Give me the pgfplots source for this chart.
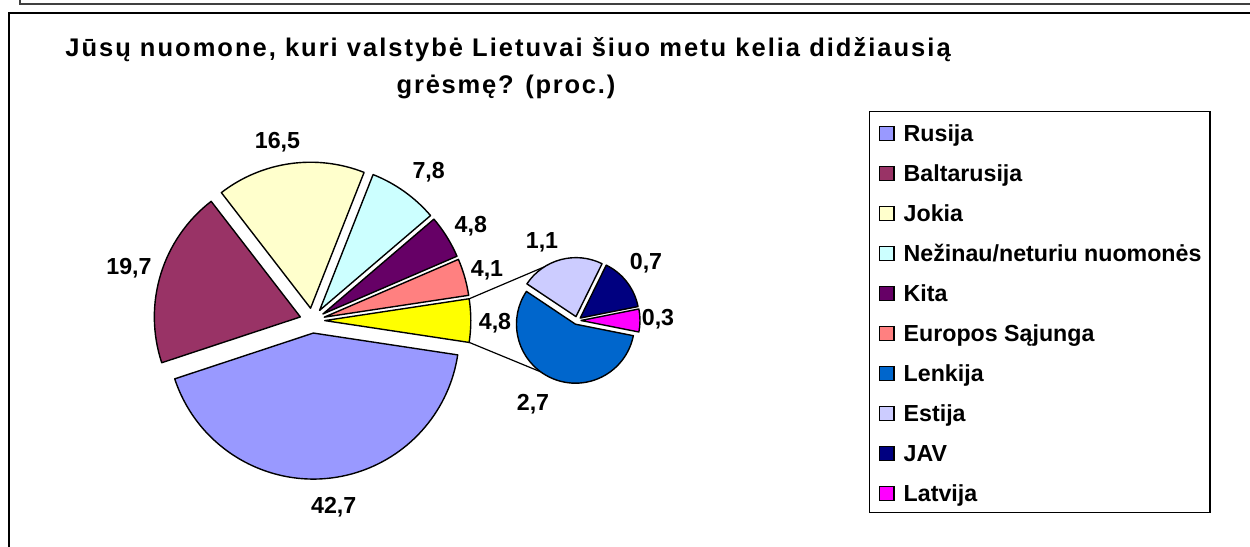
\documentclass[border=0pt]{standalone}
\usepackage{pgfplots}
\pgfplotsset{compat=1.18}
\usepackage{pgfplotstable}
\usepackage{fontspec}
\setmainfont{Liberation Sans}
\newfontfamily\titlefont[LetterSpace=7.9]{Liberation Sans}
\newfontfamily\titlefontb[LetterSpace=6.9]{Liberation Sans}

\definecolor{cRus}{HTML}{9999FF}
\definecolor{cBalt}{HTML}{993366}
\definecolor{cJokia}{HTML}{FFFFCC}
\definecolor{cNez}{HTML}{CCFFFF}
\definecolor{cKita}{HTML}{660066}
\definecolor{cES}{HTML}{FF8080}
\definecolor{cOther}{HTML}{FFFF00}
\definecolor{cLen}{HTML}{0066CC}
\definecolor{cEst}{HTML}{CCCCFF}
\definecolor{cJAV}{HTML}{000080}
\definecolor{cLat}{HTML}{FF00FF}

% main pie, counter-clockwise from the "other" slice; lx, ly = label centre (pixels from top-left)
\pgfplotstableread{
value color  lx    ly
4.8   cOther 495   321.7
4.1   cES    487   268
4.8   cKita  470.8 224
7.8   cNez   428.7 170
16.5  cJokia 277.5 140
19.7  cBalt  129   266.5
42.7  cRus   333.7 505
}\maindata

% secondary pie, counter-clockwise
\pgfplotstableread{
value color lx  ly
0.3   cLat  658 317
0.7   cJAV  646 260.8
1.1   cEst  542 240
2.7   cLen  533 402.5
}\subdata

\pgfplotstableread[col sep=comma]{
name,color
Rusija,cRus
Baltarusija,cBalt
Jokia,cJokia
Nežinau/neturiu nuomonės,cNez
Kita,cKita
Europos Sąjunga,cES
Lenkija,cLen
Estija,cEst
JAV,cJAV
Latvija,cLat
}\legdata

\newcommand\lblfont{\fontsize{11.6bp}{13bp}\selectfont\bfseries}
\pgfkeys{/pgf/number format/.cd, fixed, fixed zerofill, precision=1, use comma, assume math mode=true}

\begin{document}
\begin{tikzpicture}
\begin{axis}[x=0.5bp, y=0.5bp, xmin=0, xmax=1250, ymin=0, ymax=547,
  hide axis, clip=false, name=ax]

% frames
\draw[line width=0.75bp, black!75] (axis cs:20,547) -- (axis cs:20,543) -- (axis cs:1250,543);
\draw[line width=1.1bp] (axis cs:9.3,0) -- (axis cs:9.3,533.7) -- (axis cs:1250,533.7);

% title
\node[anchor=base, inner sep=0] at (axis cs:508,490.3) {\titlefont\fontsize{12.75bp}{14bp}\selectfont\bfseries Jūsų nuomone, kuri valstybė Lietuvai šiuo metu kelia didžiausią};
\node[anchor=base, inner sep=0] at (axis cs:506,453.7) {\titlefontb\fontsize{12.75bp}{14bp}\selectfont\bfseries grėsmę? (proc.)};

% connector lines
\draw[line width=0.6bp] (axis cs:469.2,248.2) -- (axis cs:544,280);
\draw[line width=0.6bp] (axis cs:469.2,204.6) -- (axis cs:540.8,175.1);

% ---- main pie
\def\total{0}
\pgfplotsforeachungrouped \rowi in {0,...,6}{%
  \pgfplotstablegetelem{\rowi}{value}\of\maindata
  \pgfmathsetmacro\total{\total+\pgfplotsretval}}
\pgfplotstablegetelem{0}{value}\of\maindata
\pgfmathsetmacro\astart{-\pgfplotsretval*180/\total}
\pgfplotsforeachungrouped \rowi in {0,...,6}{%
  \pgfplotstablegetelem{\rowi}{value}\of\maindata \let\slval\pgfplotsretval
  \pgfplotstablegetelem{\rowi}{color}\of\maindata \let\slcol\pgfplotsretval
  \pgfplotstablegetelem{\rowi}{lx}\of\maindata \let\slx\pgfplotsretval
  \pgfplotstablegetelem{\rowi}{ly}\of\maindata \pgfmathsetmacro\sly{538.7-\pgfplotsretval}
  \pgfmathsetmacro\aend{\astart+\slval*360/\total}
  \pgfmathsetmacro\amid{(\astart+\aend)/2}
  \pgfmathsetmacro\cx{312.3+12.5*cos(\amid)}
  \pgfmathsetmacro\cy{226.4+12.5*sin(\amid)}
  \edef\temp{\noexpand\filldraw[fill=\slcol, draw=black, line width=0.7bp, line join=round]
     (axis cs:\cx,\cy) -- ++(\astart:73bp) arc[start angle=\astart, end angle=\aend, radius=73bp] -- cycle;
     \noexpand\node[anchor=base, inner sep=0] at (axis cs:\slx,\sly)
     {\noexpand\lblfont\noexpand\pgfmathprintnumber{\slval}};}%
  \temp
  \let\astart\aend
}

% ---- secondary pie
\def\total{0}
\pgfplotsforeachungrouped \rowi in {0,...,3}{%
  \pgfplotstablegetelem{\rowi}{value}\of\subdata
  \pgfmathsetmacro\total{\total+\pgfplotsretval}}
\def\astart{-11.25}
\pgfplotsforeachungrouped \rowi in {0,...,3}{%
  \pgfplotstablegetelem{\rowi}{value}\of\subdata \let\slval\pgfplotsretval
  \pgfplotstablegetelem{\rowi}{color}\of\subdata \let\slcol\pgfplotsretval
  \pgfplotstablegetelem{\rowi}{lx}\of\subdata \let\slx\pgfplotsretval
  \pgfplotstablegetelem{\rowi}{ly}\of\subdata \pgfmathsetmacro\sly{538.7-\pgfplotsretval}
  \pgfmathsetmacro\aend{\astart+\slval*360/\total}
  \pgfmathsetmacro\amid{(\astart+\aend)/2}
  \pgfmathsetmacro\cx{577+4*cos(\amid)}
  \pgfmathsetmacro\cy{226.5+4*sin(\amid)}
  \edef\temp{\noexpand\filldraw[fill=\slcol, draw=black, line width=0.7bp, line join=round]
     (axis cs:\cx,\cy) -- ++(\astart:29.5bp) arc[start angle=\astart, end angle=\aend, radius=29.5bp] -- cycle;
     \noexpand\node[anchor=base, inner sep=0] at (axis cs:\slx,\sly)
     {\noexpand\lblfont\noexpand\pgfmathprintnumber{\slval}};}%
  \temp
  \let\astart\aend
}

% ---- legend
\draw[line width=0.7bp] (axis cs:869.3,435.3) rectangle (axis cs:1210,34.7);
\pgfplotsforeachungrouped \rowi in {0,...,9}{%
  \pgfplotstablegetelem{\rowi}{name}\of\legdata \let\lname\pgfplotsretval
  \pgfplotstablegetelem{\rowi}{color}\of\legdata \let\slcol\pgfplotsretval
  \pgfmathsetmacro\ya{406.3-40*\rowi}
  \pgfmathsetmacro\yb{420.3-40*\rowi}
  \pgfmathsetmacro\yt{405.3-40*\rowi}
  \edef\temp{\noexpand\filldraw[fill=\slcol, draw=black, line width=0.7bp]
     (axis cs:879.5,\ya) rectangle (axis cs:894,\yb);
     \noexpand\node[anchor=base west, inner sep=0] at (axis cs:903.3,\yt) {\noexpand\lblfont \lname};}%
  \temp
}
\end{axis}
\pgfresetboundingbox
\useasboundingbox (ax.south west) rectangle (ax.north east);
\end{tikzpicture}
\end{document}
